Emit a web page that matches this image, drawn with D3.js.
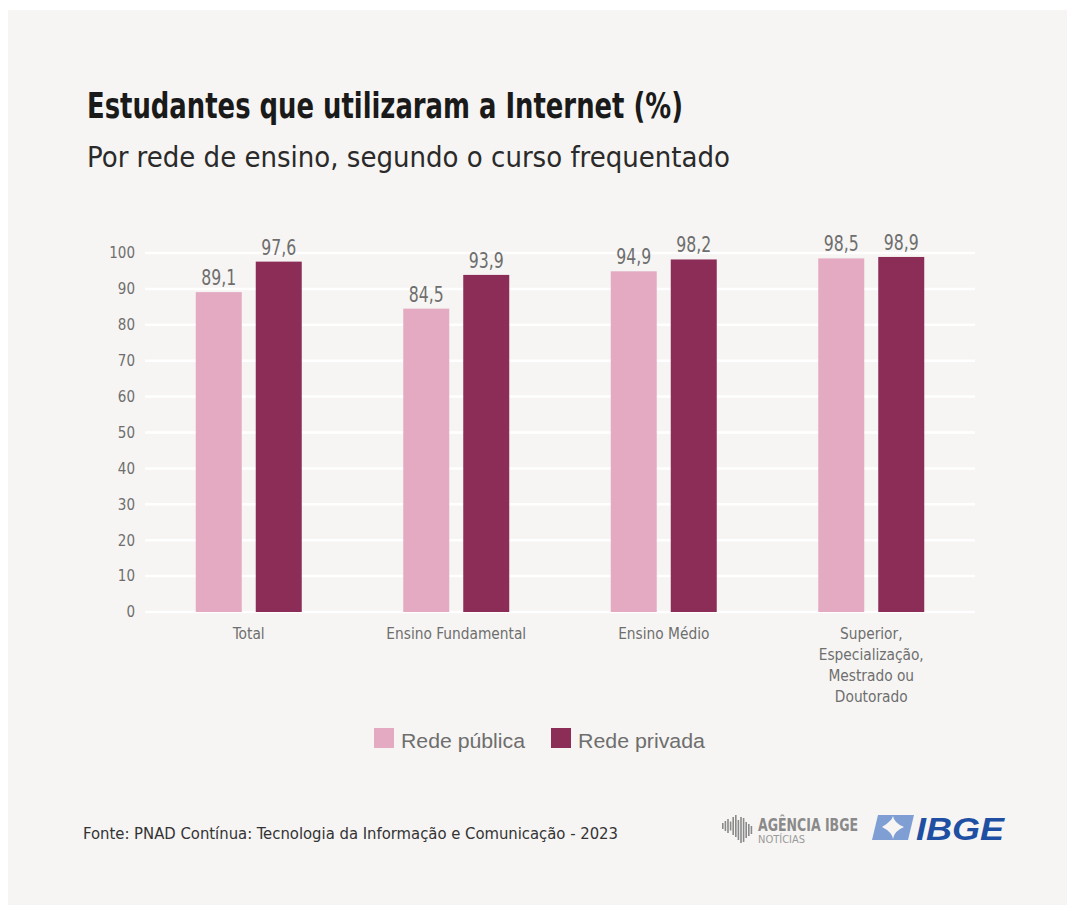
<!DOCTYPE html>
<html lang="pt">
<head>
<meta charset="UTF-8">
<title>Estudantes que utilizaram a Internet</title>
<script src="https://d3js.org/d3.v7.min.js"></script>
<style>
  body { margin: 0; background: #ffffff; }
  svg { display: block; }
  .cond { font-family: "Liberation Sans Narrow", "DejaVu Sans Condensed", "Roboto", sans-serif; }
</style>
</head>
<body>
<script>
// dados
const categorias = ["Total", "Ensino Fundamental", "Ensino Médio", "Superior, Especialização, Mestrado ou Doutorado"];
const rotulos = [["Total"], ["Ensino Fundamental"], ["Ensino Médio"], ["Superior,", "Especialização,", "Mestrado ou", "Doutorado"]];
const series = ["Rede pública", "Rede privada"];
const publica = [89.1, 84.5, 94.9, 98.5];
const privada = [97.6, 93.9, 98.2, 98.9];
const ticksY = [0, 10, 20, 30, 40, 50, 60, 70, 80, 90, 100];
const cores = ["#e3aac2", "#8c2d57"];

const W = 1067, H = 907;
const svg = d3.select("body").append("svg").attr("width", W).attr("height", H);

// cartão
svg.append("rect").attr("x", 8).attr("y", 10).attr("width", W - 8).attr("height", 895).attr("fill", "#f6f5f3");

svg.append("text").attr("class", "cond")
  .attr("x", 87).attr("y", 118)
  .attr("font-size", 35).attr("font-weight", "bold").attr("fill", "#1a1a1a")
  .attr("textLength", 596).attr("lengthAdjust", "spacingAndGlyphs")
  .text("Estudantes que utilizaram a Internet (%)");

svg.append("text").attr("class", "cond")
  .attr("x", 87).attr("y", 167)
  .attr("font-size", 28).attr("fill", "#2a2a2a")
  .attr("textLength", 643).attr("lengthAdjust", "spacingAndGlyphs")
  .text("Por rede de ensino, segundo o curso frequentado");

const x0 = d3.scaleBand().domain(categorias).range([145, 975]);
const x1 = d3.scaleOrdinal().domain(series).range([-53, 7]);
const y = d3.scaleLinear().domain([0, 100]).range([612, 253]);
const barW = 46;

// grade
svg.append("g").selectAll("line").data(ticksY).enter().append("line")
  .attr("x1", 145).attr("x2", 975)
  .attr("y1", d => y(d)).attr("y2", d => y(d))
  .attr("stroke", "#ffffff").attr("stroke-width", 2.5);

const yAxis = d3.axisLeft(y).tickValues(ticksY).tickSize(0).tickPadding(0);
const gy = svg.append("g").attr("transform", "translate(135,0)").call(yAxis);
gy.select(".domain").remove();
gy.selectAll("text").attr("class", "cond").attr("font-size", 15).attr("fill", "#6e6e6e");

const dados = categorias.map((c, i) => ({ cat: c, vals: [publica[i], privada[i]] }));

const grupos = svg.append("g").selectAll("g").data(dados).enter().append("g")
  .attr("transform", d => `translate(${x0(d.cat) + x0.bandwidth() / 2},0)`);

grupos.selectAll("rect").data(d => d.vals.map((v, j) => ({ s: series[j], v }))).enter().append("rect")
  .attr("x", d => x1(d.s)).attr("width", barW)
  .attr("y", d => y(d.v)).attr("height", d => y(0) - y(d.v))
  .attr("fill", (d, j) => cores[j]);

grupos.selectAll("text.val").data(d => d.vals.map((v, j) => ({ s: series[j], v }))).enter().append("text")
  .attr("class", "cond val")
  .attr("x", d => x1(d.s) + barW / 2).attr("y", d => y(d.v) - 7)
  .attr("text-anchor", "middle").attr("font-size", 21).attr("fill", "#6e6e6e")
  .attr("textLength", 35).attr("lengthAdjust", "spacingAndGlyphs")
  .text(d => d3.format(".1f")(d.v).replace(".", ","));

grupos.each(function(d, i) {
  const t = d3.select(this).append("text").attr("class", "cond")
    .attr("text-anchor", "middle").attr("font-size", 15.3).attr("fill", "#6e6e6e");
  rotulos[i].forEach((l, k) => {
    t.append("tspan").attr("x", 0).attr("y", 639 + k * 21).text(l);
  });
});

// legenda
const legX = [374, 551];
const legW = [124, 127];
const leg = svg.append("g").selectAll("g").data(series).enter().append("g")
  .attr("transform", (d, i) => `translate(${legX[i]},728)`);
leg.append("rect").attr("width", 20).attr("height", 20).attr("fill", (d, i) => cores[i]);
leg.append("text").attr("x", 27).attr("y", 20)
  .attr("font-family", "'Liberation Sans', Arial, sans-serif").attr("font-size", 20.5).attr("fill", "#6e6e6e")
  .attr("textLength", (d, i) => legW[i]).attr("lengthAdjust", "spacingAndGlyphs")
  .text(d => d);

// fonte
svg.append("text").attr("class", "cond")
  .attr("x", 83).attr("y", 839).attr("font-size", 16).attr("fill", "#333")
  .attr("textLength", 535).attr("lengthAdjust", "spacingAndGlyphs")
  .text("Fonte: PNAD Contínua: Tecnologia da Informação e Comunicação - 2023");

// marcas
const ag = svg.append("g").attr("transform", "translate(722,812)");
[6, 10, 14, 9, 18, 22, 20, 26, 24, 16, 12, 8].forEach((h, i) => {
  ag.append("rect").attr("x", i * 2.6).attr("y", 14 - h / 2 + (i > 5 ? 4 : 0)).attr("width", 1.6).attr("height", h).attr("fill", "#8a8a8a");
});
ag.append("text").attr("class", "cond").attr("x", 36).attr("y", 19)
  .attr("font-size", 17).attr("fill", "#8a8a8a").attr("font-weight", "bold")
  .attr("textLength", 100).attr("lengthAdjust", "spacingAndGlyphs").text("AGÊNCIA IBGE");
ag.append("text").attr("class", "cond").attr("x", 36).attr("y", 31)
  .attr("font-size", 11).attr("fill", "#9a9a9a").text("NOTÍCIAS");

const ib = svg.append("g").attr("transform", "translate(872,815)");
ib.append("path").attr("d", "M6,0 L42,0 L36,25 L0,25 Z").attr("fill", "#7f9fd4");
ib.append("path").attr("d", "M10,12 Q20,6 21,1 Q22,8 32,12 Q22,16 21,24 Q20,17 10,12 Z").attr("fill", "#f6f5f3");
ib.append("text").attr("x", 44).attr("y", 25)
  .attr("font-family", "'Liberation Sans', Arial, sans-serif").attr("font-weight", "bold").attr("font-style", "italic")
  .attr("font-size", 31).attr("fill", "#1f4fa3")
  .attr("textLength", 88).attr("lengthAdjust", "spacingAndGlyphs").text("IBGE");
</script>
</body>
</html>
